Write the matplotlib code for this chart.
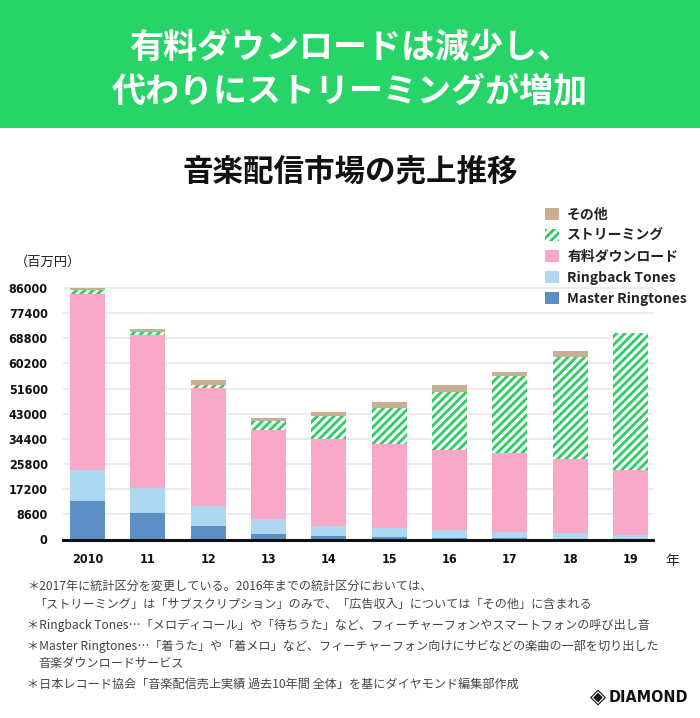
import matplotlib.pyplot as plt
import matplotlib.patches as mpatches
import numpy as np

plt.rcParams['font.family'] = ['Noto Sans CJK JP', 'DejaVu Sans']
plt.rcParams['hatch.linewidth'] = 2.0

# data (百万円)
years = ["2010", "11", "12", "13", "14", "15", "16", "17", "18", "19"]
master = [13200, 8900, 4450, 1900, 1250, 750, 450, 350, 250, 150]
ringback = [10500, 8800, 6950, 4950, 3400, 3200, 2850, 2350, 1900, 1300]
download = [60200, 52100, 40450, 30600, 29600, 28650, 27350, 26800, 25350, 22350]
streaming = [1400, 1000, 1000, 2950, 8100, 12450, 19950, 26450, 35050, 46650]
other = [700, 1200, 1550, 1250, 1350, 2050, 2300, 1350, 1950, 120]
yticks = [0, 8600, 17200, 25800, 34400, 43000, 51600, 60200, 68800, 77400, 86000]

c_master = "#5b8fc6"
c_ring = "#aed8f0"
c_down = "#f9a9c7"
c_green = "#2bcc62"
c_other = "#c9ae93"

fig = plt.figure(figsize=(7, 7.18), dpi=100)
W, H = 700, 718

# header band
fig.patches.append(mpatches.Rectangle((0, 1 - 128 / H), 1, 128 / H, transform=fig.transFigure,
                                      facecolor="#27d467", edgecolor="none", zorder=0))
fig.text(0.5, 1 - 47 / H, "有料ダウンロードは減少し、", color="white", fontsize=24.5,
         fontweight="bold", ha="center", va="center")
fig.text(0.5, 1 - 92 / H, "代わりにストリーミングが増加", color="white", fontsize=24.5,
         fontweight="bold", ha="center", va="center")
fig.text(0.5, 1 - 172 / H, "音楽配信市場の売上推移", color="#111111", fontsize=22,
         fontweight="bold", ha="center", va="center")

# axes
ax = fig.add_axes([63 / W, 1 - 539.5 / H, 590 / W, 259.5 / H])
x = np.arange(len(years))
bw = 0.58
b1 = np.array(master)
b2 = b1 + np.array(ringback)
b3 = b2 + np.array(download)
b4 = b3 + np.array(streaming)

ax.bar(x, master, bw, color=c_master, zorder=3, label="Master Ringtones")
ax.bar(x, ringback, bw, bottom=b1, color=c_ring, zorder=3, label="Ringback Tones")
ax.bar(x, download, bw, bottom=b2, color=c_down, zorder=3, label="有料ダウンロード")
ax.bar(x, streaming, bw, bottom=b3, facecolor="white", edgecolor=c_green, hatch="////",
       linewidth=0, zorder=3, label="ストリーミング")
ax.bar(x, other, bw, bottom=b4, color=c_other, zorder=3, label="その他")

ax.set_xlim(-0.406, 9.373)
ax.set_ylim(0, 86000 * 259.5 / 251.5)
ax.set_yticks(yticks)
ax.set_yticklabels([str(v) for v in yticks])
ax.set_xticks(x)
ax.set_xticklabels(years)
ax.yaxis.grid(True, color="#ececec", linewidth=1.5, zorder=0)
for s in ["top", "right", "left"]:
    ax.spines[s].set_visible(False)
ax.spines["bottom"].set_linewidth(2.2)
ax.spines["bottom"].set_color("#111111")
ax.spines["bottom"].set_zorder(4)
ax.tick_params(axis="both", length=0, labelsize=9, colors="#111111")
ax.tick_params(axis="y", pad=11)
ax.tick_params(axis="x", pad=10)
for lab in ax.get_xticklabels() + ax.get_yticklabels():
    lab.set_family("DejaVu Sans")
    lab.set_fontstretch("condensed")
    lab.set_fontweight("bold")

fig.text(15 / W, 1 - 262 / H, "（百万円）", fontsize=9.5, color="#222222", ha="left", va="center")
fig.text(665 / W, 1 - 561 / H, "年", fontsize=10, color="#222222", ha="left", va="center")

# legend
h, l = ax.get_legend_handles_labels()
leg = fig.legend(h[::-1], l[::-1], loc="upper left", bbox_to_anchor=(545 / W, 1 - 208 / H),
                 frameon=False, fontsize=10, handlelength=1.0, handleheight=1.0,
                 handletextpad=0.6, labelspacing=0.5, borderaxespad=0, borderpad=0)
for t in leg.get_texts():
    t.set_fontweight("bold")
    t.set_color("#222222")

# footnotes
notes = [
    (27, 586, "＊2017年に統計区分を変更している。2016年までの統計区分においては、"),
    (34, 604, "「ストリーミング」は「サブスクリプション」のみで、「広告収入」については「その他」に含まれる"),
    (27, 625, "＊Ringback Tones…「メロディコール」や「待ちうた」など、フィーチャーフォンやスマートフォンの呼び出し音"),
    (27, 646, "＊Master Ringtones…「着うた」や「着メロ」など、フィーチャーフォン向けにサビなどの楽曲の一部を切り出した"),
    (38, 663, "音楽ダウンロードサービス"),
    (27, 684, "＊日本レコード協会「音楽配信売上実績 過去10年間 全体」を基にダイヤモンド編集部作成"),
]
for nx, ny, txt in notes:
    fig.text(nx / W, 1 - ny / H, txt, fontsize=8.7, color="#444444", ha="left", va="center")

# logo
fig.text(598 / W, 1 - 697 / H, "◈", family="DejaVu Sans", fontsize=15, color="#111111",
         ha="center", va="center")
fig.text(688 / W, 1 - 697 / H, "DIAMOND", family="DejaVu Sans", fontstretch="condensed",
         fontsize=11.5, fontweight="bold", color="#111111", ha="right", va="center")

fig.savefig("out.png", dpi=100, facecolor="white")
